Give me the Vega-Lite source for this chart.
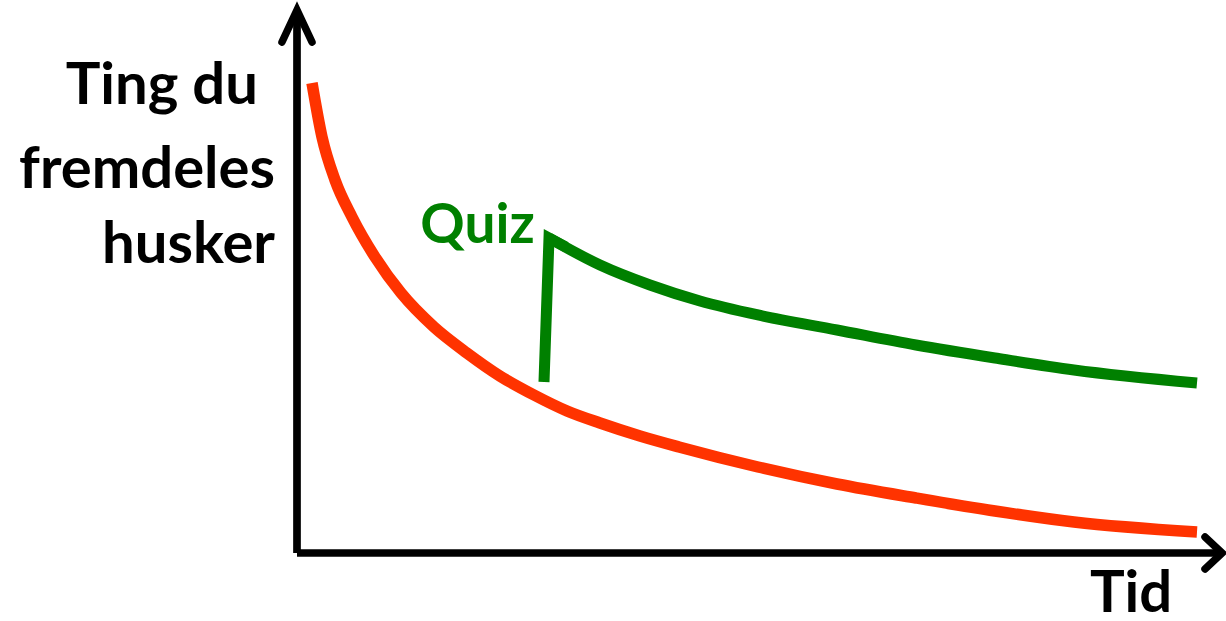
{
  "$schema": "https://vega.github.io/schema/vega-lite/v6.json",
  "width": 1226,
  "height": 621,
  "autosize": {"type": "none"},
  "padding": 0,
  "background": "white",
  "config": {"view": {"stroke": null}},
  "encoding": {
    "x": {"field": "t", "type": "quantitative", "scale": {"domain": [-33, 103.2222], "nice": false, "zero": false}, "axis": null},
    "y": {"field": "m", "type": "quantitative", "scale": {"domain": [-15.1111, 122.8889], "nice": false, "zero": false}, "axis": null}
  },
  "layer": [
    {
      "data": {"values": [
        {"part": "y", "i": 0, "t": 0, "m": 0},
        {"part": "y", "i": 1, "t": 0, "m": 120.2},
        {"part": "x", "i": 0, "t": 0, "m": 0},
        {"part": "x", "i": 1, "t": 102.4, "m": 0}
      ]},
      "mark": {"type": "line", "color": "black", "strokeWidth": 7.7, "strokeCap": "butt"},
      "encoding": {
        "detail": {"field": "part"},
        "order": {"field": "i", "type": "quantitative"}
      }
    },
    {
      "data": {"values": [
        {"part": "yhead", "i": 0, "t": -1.667, "m": 113.56},
        {"part": "yhead", "i": 1, "t": 0, "m": 120.67},
        {"part": "yhead", "i": 2, "t": 1.667, "m": 113.56},
        {"part": "xhead", "i": 0, "t": 100.89, "m": 3.56},
        {"part": "xhead", "i": 1, "t": 102.78, "m": 0},
        {"part": "xhead", "i": 2, "t": 100.89, "m": -3.56}
      ]},
      "mark": {"type": "line", "color": "black", "strokeWidth": 7.5, "strokeCap": "round", "strokeJoin": "miter"},
      "encoding": {
        "detail": {"field": "part"},
        "order": {"field": "i", "type": "quantitative"}
      }
    },
    {
      "data": {"values": [
        {"t": 1.667, "m": 104.44},
        {"t": 2.778, "m": 92.44},
        {"t": 4.222, "m": 82.89},
        {"t": 6.111, "m": 74.67},
        {"t": 8.667, "m": 65.78},
        {"t": 11.556, "m": 57.78},
        {"t": 15.222, "m": 50.22},
        {"t": 18.889, "m": 44.44},
        {"t": 22.556, "m": 39.33},
        {"t": 26.333, "m": 35.11},
        {"t": 30.0, "m": 31.56},
        {"t": 33.667, "m": 28.89},
        {"t": 38.111, "m": 26.0},
        {"t": 42.444, "m": 23.56},
        {"t": 51.222, "m": 19.11},
        {"t": 60.0, "m": 15.33},
        {"t": 68.778, "m": 12.22},
        {"t": 77.556, "m": 9.33},
        {"t": 86.333, "m": 6.89},
        {"t": 100, "m": 4.67}
      ]},
      "mark": {"type": "line", "color": "#FF3300", "strokeWidth": 11.5, "strokeCap": "butt", "interpolate": "monotone"}
    },
    {
      "data": {"values": [
        {"t": 28.0, "m": 70.0},
        {"t": 33.667, "m": 64.0},
        {"t": 39.222, "m": 59.56},
        {"t": 44.778, "m": 56.0},
        {"t": 51.222, "m": 52.89},
        {"t": 60.0, "m": 49.56},
        {"t": 68.778, "m": 46.22},
        {"t": 77.556, "m": 43.33},
        {"t": 86.333, "m": 40.67},
        {"t": 100, "m": 37.78}
      ]},
      "mark": {"type": "line", "color": "#008000", "strokeWidth": 11, "strokeCap": "butt", "interpolate": "monotone"}
    },
    {
      "data": {"values": [
        {"t": 27.444, "m": 38.0},
        {"t": 28.0, "m": 70.0},
        {"t": 29.889, "m": 68.0}
      ]},
      "mark": {"type": "line", "color": "#008000", "strokeWidth": 11, "strokeCap": "butt", "strokeJoin": "miter", "strokeMiterLimit": 20}
    },
    {
      "data": {"values": [
        {"label": "Ting du", "t": -4.333, "m": 99.8},
        {"label": "fremdeles", "t": -2.444, "m": 81.1},
        {"label": "husker", "t": -2.444, "m": 64.4}
      ]},
      "mark": {"type": "text", "font": "Lato", "fontWeight": "bold", "fontSize": 58, "align": "right", "baseline": "alphabetic", "color": "black"},
      "encoding": {"text": {"field": "label"}}
    },
    {
      "data": {"values": [{"label": "Quiz", "t": 20.06, "m": 68.9}]},
      "mark": {"type": "text", "font": "Lato", "fontWeight": "bold", "fontSize": 55, "align": "center", "baseline": "alphabetic", "color": "#008000"},
      "encoding": {"text": {"field": "label"}}
    },
    {
      "data": {"values": [{"label": "Tid", "t": 92.67, "m": -13.2}]},
      "mark": {"type": "text", "font": "Lato", "fontWeight": "bold", "fontSize": 58, "align": "center", "baseline": "alphabetic", "color": "black"},
      "encoding": {"text": {"field": "label"}}
    }
  ]
}
